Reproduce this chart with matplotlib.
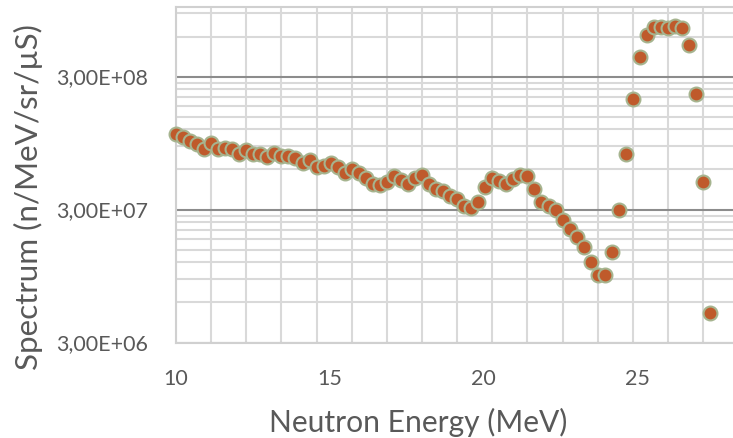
import matplotlib.pyplot as plt
from matplotlib.ticker import FixedLocator, MultipleLocator, NullFormatter

plt.rcParams['font.family'] = ['Lato', 'DejaVu Sans']

# Neutron energy (MeV) and spectrum (n/MeV/sr/uS)
energy = [10.0, 10.2, 10.4, 10.6, 10.8, 11.0, 11.2, 11.4, 11.6, 11.8,
          12.0, 12.2, 12.4, 12.6, 12.8, 13.0, 13.2, 13.4, 13.6, 13.8,
          14.0, 14.2, 14.4, 14.6, 14.8, 15.0, 15.2, 15.4, 15.6, 15.8,
          16.0, 16.2, 16.4, 16.6, 16.8, 17.0, 17.2, 17.4, 17.6, 17.8,
          18.0, 18.2, 18.4, 18.6, 18.8, 19.0, 19.2, 19.4, 19.6, 19.8,
          20.0, 20.2, 20.4, 20.6, 20.8, 21.0, 21.2, 21.4, 21.6, 21.8,
          22.0, 22.2, 22.4, 22.6, 22.8, 23.0, 23.2, 23.4, 23.6, 23.8,
          24.0, 24.2, 24.4, 24.6, 24.8, 25.0, 25.2]
spectrum = [1.11e8, 1.05e8, 9.8e7, 9.3e7, 8.6e7, 9.5e7, 8.6e7, 8.7e7, 8.6e7, 7.8e7,
            8.4e7, 7.8e7, 7.8e7, 7.4e7, 8.0e7, 7.6e7, 7.6e7, 7.3e7, 6.7e7, 7.1e7,
            6.3e7, 6.4e7, 6.7e7, 6.3e7, 5.6e7, 6.0e7, 5.6e7, 5.2e7, 4.7e7, 4.6e7,
            4.8e7, 5.4e7, 5.0e7, 4.7e7, 5.2e7, 5.5e7, 4.7e7, 4.3e7, 4.1e7, 3.8e7,
            3.6e7, 3.2e7, 3.1e7, 3.4e7, 4.4e7, 5.2e7, 4.9e7, 4.7e7, 5.1e7, 5.5e7,
            5.4e7, 4.3e7, 3.4e7, 3.2e7, 3.0e7, 2.5e7, 2.14e7, 1.86e7, 1.57e7, 1.21e7,
            9.7e6, 9.7e6, 1.44e7, 2.97e7, 7.8e7, 2.03e8, 4.2e8, 6.15e8, 7.07e8, 7.07e8,
            6.95e8, 7.2e8, 6.95e8, 5.2e8, 2.2e8, 4.8e7, 5.0e6]

y_ticks = [3e6, 3e7, 3e8]
y_labels = ['3,00E+06', '3,00E+07', '3,00E+08']
x_ticks = [10, 15, 20, 25]
x_labels = ['10', '15', '20', '25']

text_color = '#595959'
light = '#D9D9D9'

fig = plt.figure(figsize=(7.33, 4.38), dpi=100)
ax = fig.add_axes([0.2401, 0.218, 0.7599, 0.766])

ax.scatter(energy, spectrum, s=100, color='#BF5A2B', edgecolor='#A6B48F',
           linewidth=1.5, zorder=3, clip_on=False)

ax.set_yscale('log')
ax.set_ylim(3e6, 1.0e9)
ax.set_xlim(10, 25.85)

# y axis: majors at 3x10^n, minors at k*3x10^n
minor_vals = [3 * k * 10 ** n for n in range(6, 9) for k in range(2, 10)]
ax.yaxis.set_major_locator(FixedLocator(y_ticks))
ax.yaxis.set_minor_locator(FixedLocator(minor_vals))
ax.set_yticklabels(y_labels)
ax.yaxis.set_minor_formatter(NullFormatter())
ax.tick_params(axis='y', which='both', length=0, pad=20, labelsize=15.5,
               labelcolor=text_color)

# x gridlines every 1 MeV
ax.xaxis.set_major_locator(MultipleLocator(1))
ax.xaxis.set_major_formatter(NullFormatter())
ax.tick_params(axis='x', which='both', length=0)

ax.grid(True, axis='x', which='major', color=light, lw=1.5, zorder=0)
ax.grid(True, axis='y', which='minor', color=light, lw=1.5, zorder=0)
ax.grid(True, axis='y', which='major', color='#8C8C8C', lw=1.5, zorder=1)

# tick labels on their own scale
sec = ax.secondary_xaxis('bottom', functions=(lambda x: 10 + (x - 10) / 0.875,
                                              lambda v: 10 + 0.875 * (v - 10)))
sec.set_xticks(x_ticks)
sec.set_xticklabels(x_labels)
sec.tick_params(length=0, pad=19, labelsize=15.5, labelcolor=text_color)
sec.spines['bottom'].set_visible(False)

for side in ['left', 'bottom', 'top']:
    ax.spines[side].set_color('#D0D0D0')
    ax.spines[side].set_linewidth(1.5)
ax.spines['right'].set_visible(False)

fig.text(418 / 733, 1 - 422 / 438, 'Neutron Energy (MeV)', ha='center', va='center',
         fontsize=21.6, color=text_color)
fig.text(28 / 733, 1 - 197 / 438, 'Spectrum (n/MeV/sr/µS)', ha='center', va='center',
         rotation=90, fontsize=22.6, color=text_color)

plt.savefig('out.png', dpi=100)
